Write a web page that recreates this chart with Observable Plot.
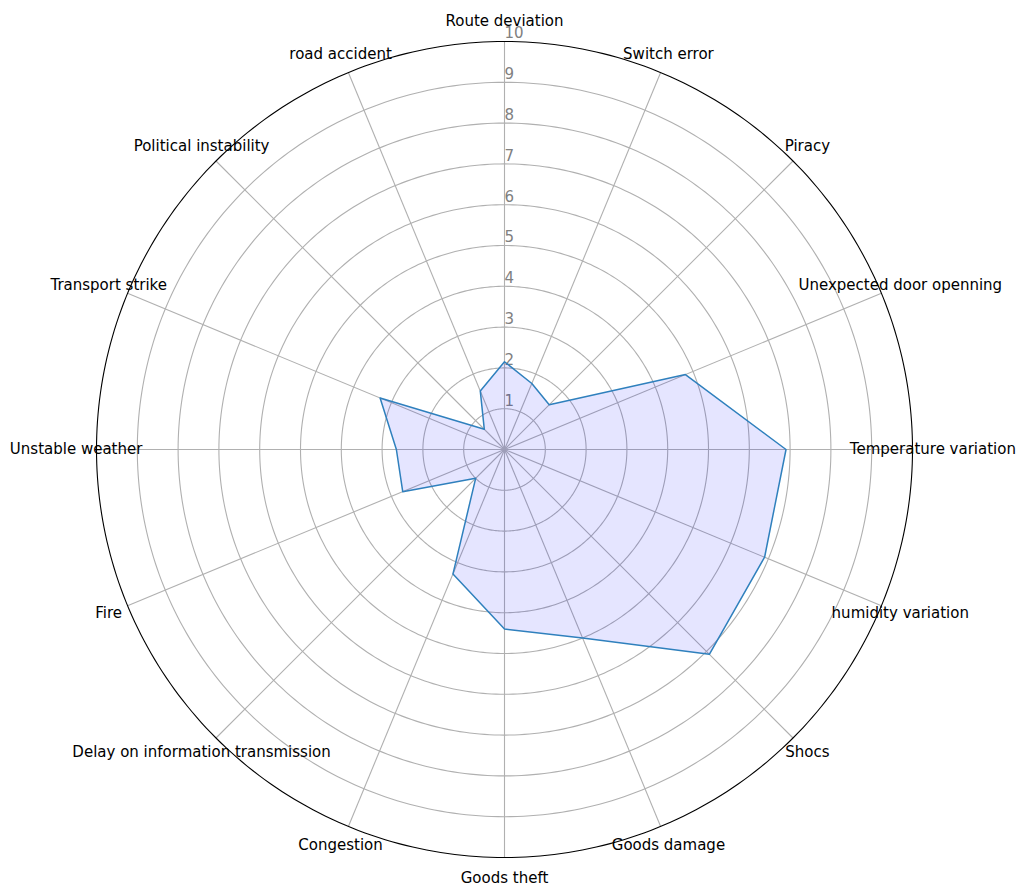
<!DOCTYPE html>
<html>
<head>
<meta charset="utf-8">
<script src="https://cdn.jsdelivr.net/npm/d3@7"></script>
<script src="https://cdn.jsdelivr.net/npm/@observablehq/plot@0.6"></script>
<style>
  html, body { margin: 0; padding: 0; background: #fff; }
  #chart svg { display: block; }
</style>
</head>
<body>
<div id="chart"></div>
<script>
// Categories clockwise from the top
const categories = [
  "Route deviation", "Switch error", "Piracy", "Unexpected door openning",
  "Temperature variation", "humidity variation", "Shocs", "Goods damage",
  "Goods theft", "Congestion", "Delay on information transmission", "Fire",
  "Unstable weather", "Transport strike", "Political instability", "road accident"
];
const values = [2.15, 1.75, 1.55, 4.8, 6.9, 6.9, 7.1, 5.0, 4.4, 3.3, 1.0, 2.7, 2.65, 3.3, 0.7, 1.55];
const rTicks = [1, 2, 3, 4, 5, 6, 7, 8, 9, 10];
const rMax = 10;
const labelRadius = 10.5;

const n = categories.length;
const angleOf = i => (2 * Math.PI * i) / n;
const px = (r, a) => r * Math.sin(a);
const py = (r, a) => r * Math.cos(a);

const data = categories.map((c, i) => ({ category: c, value: values[i], angle: angleOf(i) }));

// grid ring geometry (circles at each radial tick)
const ringPts = [];
for (const k of rTicks) {
  for (let deg = 0; deg < 360; deg += 1) {
    const a = (deg * Math.PI) / 180;
    ringPts.push({ k, a });
  }
}

const chart = Plot.plot({
  width: 1020,
  height: 891,
  marginLeft: 96,
  marginRight: 108,
  marginTop: 41,
  marginBottom: 34,
  x: { domain: [-rMax, rMax], axis: null },
  y: { domain: [-rMax, rMax], axis: null },
  style: { fontFamily: "DejaVu Sans", fontSize: "15px", background: "white" },
  marks: [
    // grid rings
    Plot.line(ringPts.filter(d => d.k < rMax), {
      x: d => px(d.k, d.a), y: d => py(d.k, d.a), z: "k",
      curve: "linear-closed", stroke: "#b0b0b0", strokeWidth: 1.1
    }),
    // spokes
    Plot.link(data, {
      x1: () => 0, y1: () => 0,
      x2: d => px(rMax, d.angle), y2: d => py(rMax, d.angle),
      stroke: "#b0b0b0", strokeWidth: 1.1
    }),
    // outer spine
    Plot.line(ringPts.filter(d => d.k === rMax), {
      x: d => px(d.k, d.a), y: d => py(d.k, d.a),
      curve: "linear-closed", stroke: "#000", strokeWidth: 1.1
    }),
    // radial tick labels
    Plot.text(rTicks, {
      x: () => 0, y: d => d, text: d => String(d),
      textAnchor: "start", dx: 0, dy: -8, fill: "#808080", fontSize: 15
    }),
    // filled polygon
    Plot.line(data, {
      x: d => px(d.value, d.angle), y: d => py(d.value, d.angle),
      curve: "linear-closed", fill: "blue", fillOpacity: 0.1, stroke: "none"
    }),
    Plot.line(data, {
      x: d => px(d.value, d.angle), y: d => py(d.value, d.angle),
      curve: "linear-closed", stroke: "#2f80bd", strokeWidth: 1.5
    }),
    // category labels
    Plot.text(data, {
      x: d => px(labelRadius, d.angle), y: d => py(labelRadius, d.angle),
      text: "category", textAnchor: "middle", fill: "#000", fontSize: 15
    })
  ]
});
document.getElementById("chart").appendChild(chart);
</script>
</body>
</html>
